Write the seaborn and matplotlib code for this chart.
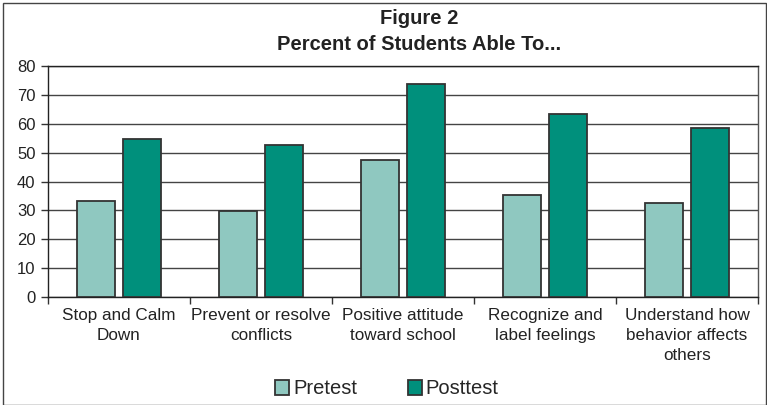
import matplotlib
matplotlib.use("Agg")
import matplotlib.pyplot as plt
import seaborn as sns
import pandas as pd
from matplotlib.patches import Rectangle
from matplotlib.ticker import FixedLocator

categories = [
    "Stop and Calm\nDown",
    "Prevent or resolve\nconflicts",
    "Positive attitude\ntoward school",
    "Recognize and\nlabel feelings",
    "Understand how\nbehavior affects\nothers",
]
pretest = [33.3, 29.8, 47.6, 35.3, 32.6]
posttest = [54.8, 52.6, 73.6, 63.5, 58.7]
series = ["Pretest", "Posttest"]
colors = ["#8fc8c0", "#00907c"]

df = pd.DataFrame({
    "category": categories * 2,
    "value": pretest + posttest,
    "series": [series[0]] * len(categories) + [series[1]] * len(categories),
})

sns.set_style("white")
plt.rcParams["font.family"] = ["Liberation Sans", "DejaVu Sans"]

fig = plt.figure(figsize=(7.67, 4.05), dpi=100)
ax = fig.add_axes([48 / 767, (405 - 297) / 405, 710 / 767, 231 / 405])

sns.barplot(data=df, x="category", y="value", hue="series", order=categories,
            hue_order=series, palette=colors, width=0.64, gap=0.165,
            edgecolor="#333333", linewidth=1.3, saturation=1, ax=ax,
            legend=True, zorder=3)

ax.set_ylim(0, 80)
ax.set_xlim(-0.5, len(categories) - 0.5)
ax.set_yticks(range(0, 81, 10))
ax.yaxis.grid(True, color="#444444", linewidth=1.0, zorder=0)
ax.set_axisbelow(True)
ax.set_xlabel("")
ax.set_ylabel("")

# category labels without tick marks; tick marks sit between categories
ax.tick_params(axis="x", which="major", length=0, pad=8, labelsize=12.3,
               colors="#222222")
ax.xaxis.set_minor_locator(FixedLocator([i + 0.5 for i in range(-1, len(categories))]))
ax.tick_params(axis="x", which="minor", length=5, width=1, color="#333333",
               direction="out", bottom=True)
ax.tick_params(axis="y", length=5, width=1, color="#333333", direction="out",
               left=True, labelsize=12, pad=4, labelcolor="#222222")
for lab in ax.get_xticklabels():
    lab.set_linespacing(1.4)

for side in ["left", "bottom", "top"]:
    ax.spines[side].set_color("#222222")
    ax.spines[side].set_linewidth(1.0)
ax.spines["right"].set_color("#555555")
ax.spines["right"].set_linewidth(1.0)

ax.get_legend().remove()
handles, labels = ax.get_legend_handles_labels()
fig.legend(handles, labels, loc="center", bbox_to_anchor=(387 / 767, 1 - 389 / 405),
           ncol=2, frameon=False, fontsize=14.5, handlelength=0.7,
           handleheight=0.7, handletextpad=0.2, columnspacing=2.5)

fig.text(419 / 767, 1 - 19 / 405, "Figure 2", ha="center", va="center",
         fontsize=14.5, fontweight="bold", color="#222222")
fig.text(419 / 767, 1 - 45 / 405, "Percent of Students Able To...", ha="center",
         va="center", fontsize=14.5, fontweight="bold", color="#222222")

# outer frame around the chart
fig.patches.append(Rectangle((3 / 767, 0), 1 - 4 / 767, 1 - 3 / 405,
                             transform=fig.transFigure, fill=False,
                             edgecolor="#444444", linewidth=1.0))

fig.savefig("out.png", dpi=100)
